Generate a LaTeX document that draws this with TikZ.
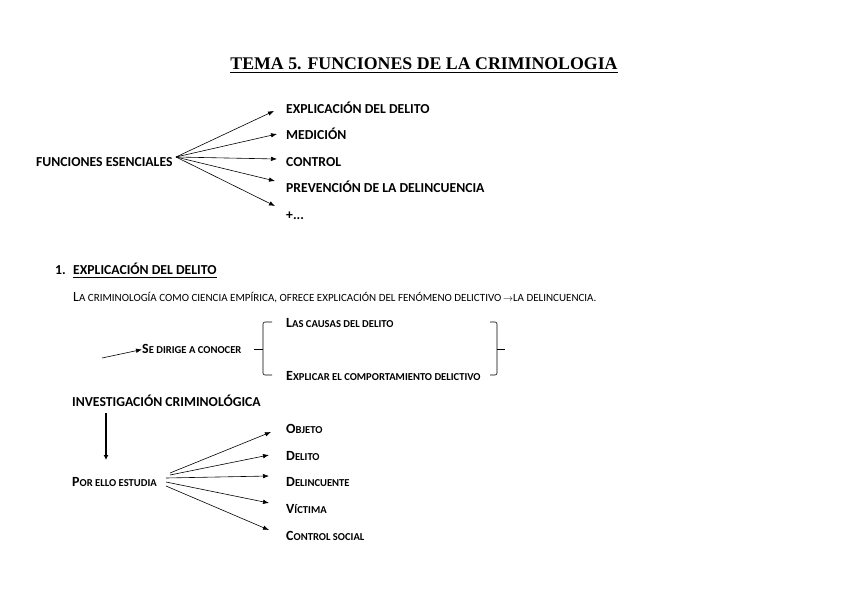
\documentclass[tikz,border=0pt]{standalone}
\usepackage{fontspec}
\setmainfont{Carlito}
\newfontfamily\titlefont{Liberation Serif}
\usetikzlibrary{arrows.meta}
% fake small caps: big first letter, small rest
\newcommand{\fsc}[2]{{\fontsize{14}{16}\selectfont#1}{\fontsize{10.6}{12}\selectfont #2}}
\tikzset{
  txt/.style={anchor=west, inner sep=0pt, yshift=-2pt, text height=9pt, text depth=2pt, font=\fontsize{13.7}{16}\selectfont\bfseries},
  sctxt/.style={anchor=west, inner sep=0pt, yshift=-1.5pt, text height=9pt, text depth=2pt, font=\bfseries},
  fan/.style={-{Latex[length=6pt,width=4.5pt]}, line width=0.6pt},
  brace/.style={line width=0.6pt, rounded corners=2pt},
}
\begin{document}
\begin{tikzpicture}[x=1pt,y=-1pt]
\useasboundingbox[fill=white] (0,0) rectangle (848,599);
% Title
\node[inner sep=0pt, font=\titlefont\bfseries\fontsize{17.8}{20}\selectfont] (title) at (424,64) {TEMA 5. FUNCIONES DE LA CRIMINOLOGIA};
\draw[line width=1.3pt] ([yshift=-2.5pt]title.south west) -- ([yshift=-2.5pt]title.south east);
% Funciones esenciales
\node[txt] (fun) at (36,161) {FUNCIONES ESENCIALES};
\node[txt] (f1) at (286,108) {EXPLICACIÓN DEL DELITO};
\node[txt] (f2) at (286,134) {MEDICIÓN};
\node[txt] (f3) at (286,161) {CONTROL};
\node[txt] (f4) at (286,187) {PREVENCIÓN DE LA DELINCUENCIA};
\node[txt] (f5) at (286,214) {+...};
\coordinate (fo) at (176,157);
\coordinate (fe1) at (274,111);
\coordinate (fe2) at (277,134);
\coordinate (fe3) at (277,159);
\coordinate (fe4) at (275,181);
\coordinate (fe5) at (275,206);
\foreach \i in {1,...,5}
  \draw[fan] (fo) -- (fe\i);
% Section 1
\node[txt] (num) at (55,269) {1.};
\node[txt] (sec) at (73,269) {EXPLICACIÓN DEL DELITO};
\draw[line width=0.6pt] ([yshift=-0.5pt]sec.south west) -- ([yshift=-0.5pt]sec.south east);
\node[sctxt, font=\mdseries] (par) at (73,296) {\fsc{L}{\fontsize{11}{12}\selectfont A CRIMINOLOGÍA COMO CIENCIA EMPÍRICA, OFRECE EXPLICACIÓN DEL FENÓMENO DELICTIVO}\,$\rightarrow${\fontsize{11}{12}\selectfont LA DELINCUENCIA.}};
% Se dirige a conocer
\coordinate (sa) at (102,358);
\node[sctxt] (dir) at (142,348) {\fsc{S}{E DIRIGE A CONOCER}};
\draw[fan] (sa) -- (dir.west);
\node[sctxt] (c1) at (286,322) {\fsc{L}{AS CAUSAS DEL DELITO}};
\node[sctxt] (c2) at (286,375) {\fsc{E}{XPLICAR EL COMPORTAMIENTO DELICTIVO}};
\draw[brace] (272,322) -- (263,322) -- (263,375) -- (272,375);
\draw[line width=0.6pt] (254,349) -- (263,349);
\draw[brace] (490,322) -- (497,322) -- (497,375) -- (490,375);
\draw[line width=0.6pt] (497,349) -- (505,349);
% Investigacion criminologica
\node[txt] (inv) at (72,401) {INVESTIGACIÓN CRIMINOLÓGICA};
\node[sctxt] (est) at (72,481) {\fsc{P}{OR ELLO ESTUDIA}};
\draw[-{Latex[length=5pt,width=5pt]}, line width=2.4pt] (106,413) -- (106,460);
\node[sctxt] (o1) at (286,428) {\fsc{O}{BJETO}};
\node[sctxt] (o2) at (286,455) {\fsc{D}{ELITO}};
\node[sctxt] (o3) at (286,481) {\fsc{D}{ELINCUENTE}};
\node[sctxt] (o4) at (286,508) {\fsc{V}{ÍCTIMA}};
\node[sctxt] (o5) at (286,535) {\fsc{C}{ONTROL SOCIAL}};
\coordinate (eo1) at (170,473);
\coordinate (eo2) at (170,475);
\coordinate (eo3) at (166,478);
\coordinate (eo4) at (166,482);
\coordinate (eo5) at (166,486);
\coordinate (ee1) at (271,432);
\coordinate (ee2) at (269,455);
\coordinate (ee3) at (269,476);
\coordinate (ee4) at (269,503);
\coordinate (ee5) at (269,530);
\foreach \i in {1,...,5}
  \draw[fan] (eo\i) -- (ee\i);
\end{tikzpicture}
\end{document}
